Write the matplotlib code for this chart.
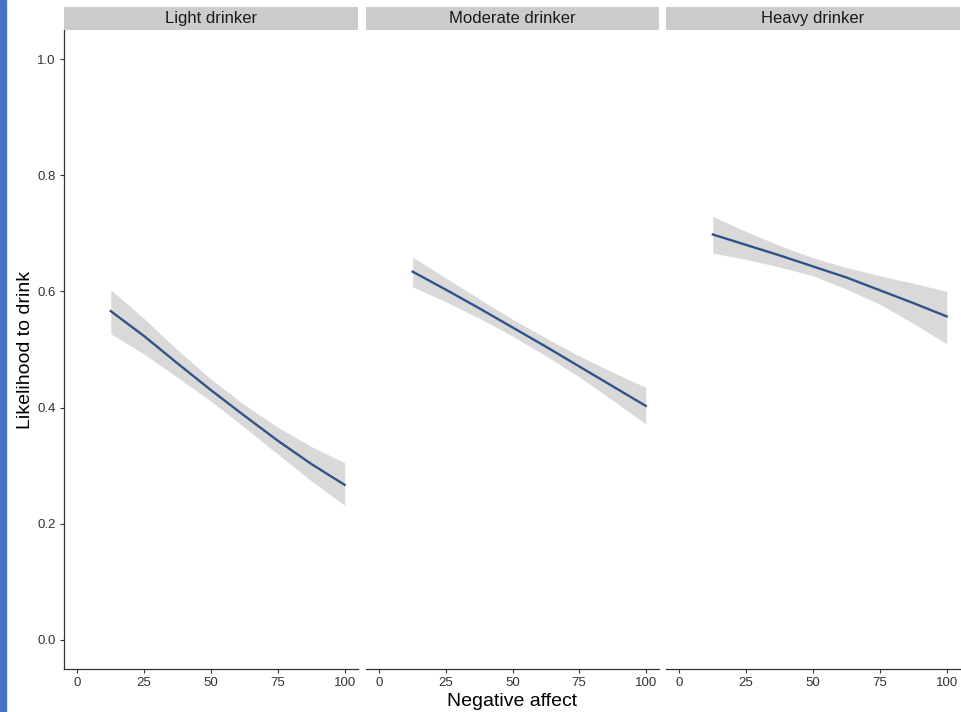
import matplotlib.pyplot as plt
import numpy as np

plt.rcParams['font.family'] = ['Liberation Sans', 'DejaVu Sans']

panels = ["Light drinker", "Moderate drinker", "Heavy drinker"]
neg_affect = [12.5, 25, 37.5, 50, 62.5, 75, 87.5, 100]

fit = [
    [0.566, 0.523, 0.476, 0.430, 0.386, 0.343, 0.303, 0.267],
    [0.634, 0.603, 0.571, 0.538, 0.505, 0.471, 0.437, 0.403],
    [0.698, 0.680, 0.662, 0.643, 0.624, 0.602, 0.580, 0.557],
]
upper = [
    [0.603, 0.553, 0.499, 0.449, 0.405, 0.366, 0.333, 0.305],
    [0.659, 0.623, 0.587, 0.552, 0.520, 0.489, 0.461, 0.435],
    [0.729, 0.703, 0.679, 0.658, 0.641, 0.627, 0.614, 0.600],
]
lower = [
    [0.527, 0.492, 0.452, 0.411, 0.366, 0.320, 0.274, 0.232],
    [0.608, 0.582, 0.554, 0.523, 0.489, 0.453, 0.413, 0.372],
    [0.666, 0.655, 0.642, 0.627, 0.604, 0.578, 0.545, 0.510],
]

x_ticks = [0, 25, 50, 75, 100]
y_ticks = [0.0, 0.2, 0.4, 0.6, 0.8, 1.0]

fig = plt.figure(figsize=(9.62, 7.12), dpi=100)

# blue bar on the left edge
fig.patches.append(plt.Rectangle((0, 0), 6 / 962, 1, transform=fig.transFigure,
                                 color="#4472C4", zorder=0))

lefts = [64, 366, 666]
widths = [294, 293, 294]
bottom = 43 / 712
height = 639 / 712

for i, name in enumerate(panels):
    ax = fig.add_axes([lefts[i] / 962, bottom, widths[i] / 962, height])
    x = np.array(neg_affect)
    ax.fill_between(x, lower[i], upper[i], color="#D9D9D9", lw=0)
    ax.plot(x, fit[i], color="#2F5487", lw=1.7)

    ax.set_xlim(-5, 105)
    ax.set_ylim(-0.05, 1.05)
    ax.set_xticks(x_ticks)
    ax.set_xticklabels([str(t) for t in x_ticks])
    ax.tick_params(axis="x", length=3, width=0.8, color="#333333",
                   labelsize=9.5, labelcolor="#333333", pad=2.5)
    for s in ["top", "right"]:
        ax.spines[s].set_visible(False)
    ax.spines["bottom"].set_linewidth(0.9)
    ax.spines["bottom"].set_color("#333333")

    if i == 0:
        ax.set_yticks(y_ticks)
        ax.set_yticklabels([f"{t:.1f}" for t in y_ticks])
        ax.tick_params(axis="y", length=3, width=0.8, color="#333333",
                       labelsize=9.5, labelcolor="#333333", pad=3)
        ax.spines["left"].set_linewidth(0.9)
        ax.spines["left"].set_color("#333333")
        ax.set_ylabel("Likelihood to drink", fontsize=14, labelpad=2)
    else:
        ax.spines["left"].set_visible(False)
        ax.set_yticks([])

    if i == 1:
        ax.set_xlabel("Negative affect", fontsize=14, labelpad=3.5)

    # facet strip
    sax = fig.add_axes([lefts[i] / 962, 682 / 712, widths[i] / 962, 23 / 712])
    sax.set_facecolor("#CCCCCC")
    sax.set_xticks([])
    sax.set_yticks([])
    for s in sax.spines.values():
        s.set_visible(False)
    sax.text(0.5, 0.5, name, ha="center", va="center", fontsize=12,
             color="#1A1A1A", transform=sax.transAxes)

fig.savefig("out.png", dpi=100)
